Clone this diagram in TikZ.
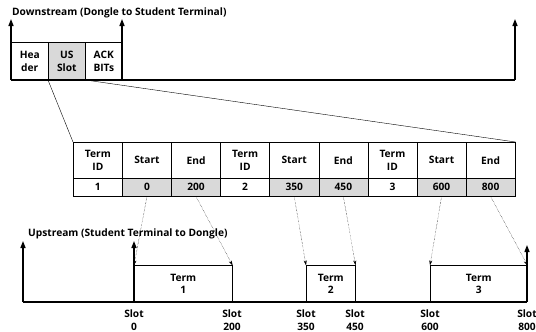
\documentclass[tikz,border=0pt]{standalone}
\usepackage{fontspec}
\setmainfont{Open Sans}
\usetikzlibrary{arrows.meta}

\definecolor{slotgray}{RGB}{217,217,217}

\tikzset{
  axis/.style={line width=1.3pt,-{Triangle[length=7pt,width=5pt]}},
  cell/.style={draw,line width=0.6pt,minimum width=49.1pt,inner sep=0pt,align=center,anchor=north west},
  headcell/.style={cell,minimum height=36pt},
  valcell/.style={cell,minimum height=18pt},
  dsbox/.style={draw,line width=0.6pt,minimum width=37pt,minimum height=37pt,inner sep=0pt,align=center,anchor=south west},
  termbox/.style={draw,line width=0.6pt,minimum height=36pt,inner sep=0pt,align=center,anchor=south west},
  pointer/.style={densely dotted,line width=0.4pt,-{Stealth[length=5pt,width=3pt]}},
  slotlabel/.style={align=center,inner sep=0pt}
}

\begin{document}
\begin{tikzpicture}[x=1pt,y=-1pt,font=\bfseries\fontsize{10.2}{12.5}\selectfont]

    \useasboundingbox (0,0) rectangle (536,332);

    % Downstream
    \node[anchor=west,inner sep=0pt] (downtitle) at (12,13) {Downstream (Dongle to Student Terminal)};

    \node[dsbox] (header) at (11,80) {Hea\\der};
    \node[dsbox,fill=slotgray] (usslot) at (48,80) {US\\Slot};
    \node[dsbox] (ack) at (85,80) {ACK\\BITs};

    \draw[line width=1.3pt] (11,80) -- (515,80);
    \draw[axis] (11,80) -- (11,19);
    \draw[axis] (122,80) -- (122,19);
    \draw[axis] (515,80) -- (515,19);

    % Slot table
    \node[headcell] (id1) at (73,142) {Term\\ID};
    \node[headcell] (st1) at (122.1,142) {Start};
    \node[headcell] (en1) at (171.2,142) {End};
    \node[headcell] (id2) at (220.3,142) {Term\\ID};
    \node[headcell] (st2) at (269.4,142) {Start};
    \node[headcell] (en2) at (318.5,142) {End};
    \node[headcell] (id3) at (367.6,142) {Term\\ID};
    \node[headcell] (st3) at (416.7,142) {Start};
    \node[headcell] (en3) at (465.8,142) {End};

    \node[valcell] (vid1) at (73,178) {1};
    \node[valcell,fill=slotgray] (vst1) at (122.1,178) {0};
    \node[valcell,fill=slotgray] (ven1) at (171.2,178) {200};
    \node[valcell] (vid2) at (220.3,178) {2};
    \node[valcell,fill=slotgray] (vst2) at (269.4,178) {350};
    \node[valcell,fill=slotgray] (ven2) at (318.5,178) {450};
    \node[valcell] (vid3) at (367.6,178) {3};
    \node[valcell,fill=slotgray] (vst3) at (416.7,178) {600};
    \node[valcell,fill=slotgray] (ven3) at (465.8,178) {800};

    %% zoom lines
    \draw[line width=0.4pt] (usslot.south west) -- (id1.north west);
    \draw[line width=0.4pt] (usslot.south east) -- (en3.north east);

    % Upstream
    \node[anchor=west,inner sep=0pt] (uptitle) at (28,234) {Upstream (Student Terminal to Dongle)};

    \node[termbox,minimum width=98pt] (term1) at (134,302) {Term\\1};
    \node[termbox,minimum width=49pt] (term2) at (306,302) {Term\\2};
    \node[termbox,minimum width=97pt] (term3) at (430,302) {Term\\3};

    \draw[line width=1.3pt] (23,302) -- (527,302);
    \draw[axis] (23,302) -- (23,241);
    \draw[axis] (134,302) -- (134,241);
    \draw[axis] (527,302) -- (527,245);

    %% Slot labels
    \node[slotlabel] (slot0) at (134,320) {Slot\\0};
    \node[slotlabel] (slot200) at (232,320) {Slot\\200};
    \node[slotlabel] (slot350) at (306,320) {Slot\\350};
    \node[slotlabel] (slot450) at (355,320) {Slot\\450};
    \node[slotlabel] (slot600) at (430,320) {Slot\\600};
    \node[slotlabel] (slot800) at (527,320) {Slot\\800};

    %% Pointers
    \draw[pointer] (vst1.south) -- (term1.north west);
    \draw[pointer] (ven1.south) -- (term1.north east);
    \draw[pointer] (vst2.south) -- (term2.north west);
    \draw[pointer] (ven2.south) -- (term2.north east);
    \draw[pointer] (vst3.south) -- (term3.north west);
    \draw[pointer] (ven3.south) -- (term3.north east);

\end{tikzpicture}
\end{document}
